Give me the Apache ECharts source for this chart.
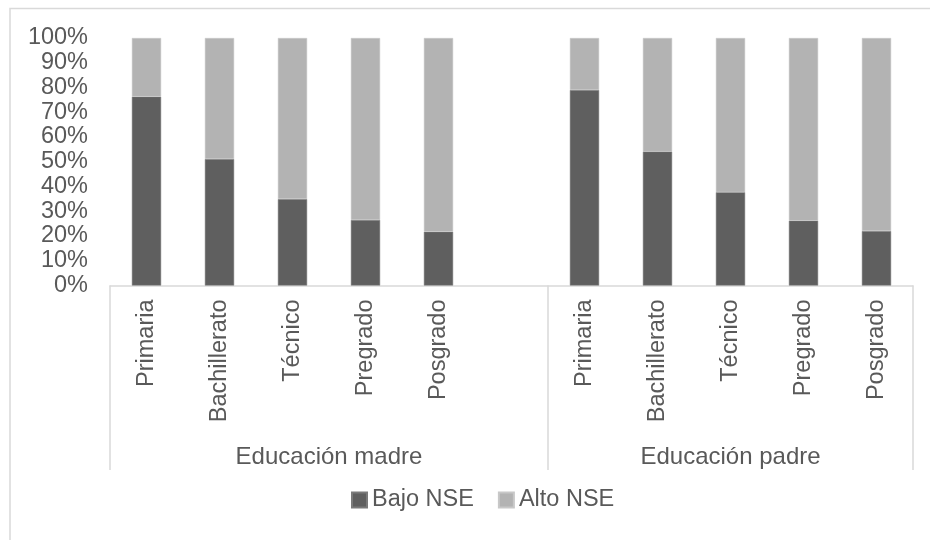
<!DOCTYPE html>
<html>
<head>
<meta charset="utf-8">
<script src="https://cdn.jsdelivr.net/npm/echarts@6/dist/echarts.min.js"></script>
<style>
html,body{margin:0;padding:0;background:#fff;}
#c{width:930px;height:540px;}
</style>
</head>
<body>
<div id="c"></div>
<script>
// ---- data ----
const levels = ['Primaria', 'Bachillerato', 'Técnico', 'Pregrado', 'Posgrado'];
const groups = ['Educación madre', 'Educación padre'];
const bajoMadre = [76.3, 51.1, 34.9, 26.5, 21.7];
const bajoPadre = [79.0, 54.1, 37.7, 26.2, 22.0];
const altoMadre = [23.7, 48.9, 65.1, 73.5, 78.3];
const altoPadre = [21.0, 45.9, 62.3, 73.8, 78.0];
const seriesNames = ['Bajo NSE', 'Alto NSE'];
const yTicks = [0, 10, 20, 30, 40, 50, 60, 70, 80, 90, 100];

// categories: madre group (5 + one empty slot), padre group (5)
const categories = levels.concat(['']).concat(levels);
const bajo = bajoMadre.concat([null]).concat(bajoPadre);
const alto = altoMadre.concat([null]).concat(altoPadre);

const textColor = '#595959';
const lineColor = '#d9d9d9';
const font = 'Liberation Sans, Arial, sans-serif';

const chart = echarts.init(document.getElementById('c'), null, {renderer: 'canvas'});
const option = {
  animation: false,
  textStyle: {fontFamily: font},
  grid: {left: 110, right: 17, top: 38, bottom: 254.5},
  legend: {
    data: seriesNames,
    left: 346, top: 483,
    itemWidth: 15, itemHeight: 15, itemGap: 24,
    icon: 'rect',
    textStyle: {color: textColor, fontSize: 23.5, fontFamily: font}
  },
  xAxis: {
    type: 'category',
    data: categories,
    axisLine: {show: true, lineStyle: {color: lineColor, width: 1.5}},
    axisTick: {show: false},
    axisLabel: {rotate: 90, interval: 0, margin: 14, color: textColor, fontSize: 23.5, fontFamily: font}
  },
  yAxis: {
    type: 'value',
    min: 0, max: 100, interval: 10,
    axisLine: {show: false},
    axisTick: {show: false},
    splitLine: {show: false},
    axisLabel: {
      margin: 22, color: textColor, fontSize: 23.5, fontFamily: font,
      formatter: function (v) { return yTicks.indexOf(v) >= 0 ? v + '%' : ''; }
    }
  },
  series: [
    {name: seriesNames[0], type: 'bar', stack: 'a', data: bajo, barWidth: '40%',
     itemStyle: {color: '#5f5f5f', borderColor: '#7a7a7a', borderWidth: 0.5}},
    {name: seriesNames[1], type: 'bar', stack: 'a', data: alto, barWidth: '40%',
     itemStyle: {color: '#b3b3b3', borderColor: '#c8c8c8', borderWidth: 0.5}}
  ]
};
chart.setOption(option);

// group separators and labels positioned via the axis scale
function boundary(i) {
  const a = chart.convertToPixel({xAxisIndex: 0}, 0);
  const step = chart.convertToPixel({xAxisIndex: 0}, 1) - a;
  return a - step / 2 + i * step;
}
const y0 = chart.convertToPixel({yAxisIndex: 0}, 0);
const bounds = [0, 6, 11].map(boundary);
const g = [];
bounds.forEach(function (x) {
  g.push({type: 'line', shape: {x1: x, y1: y0, x2: x, y2: 470},
          style: {stroke: lineColor, lineWidth: 1.5}, silent: true});
});
groups.forEach(function (name, i) {
  g.push({type: 'text', x: (bounds[i] + bounds[i + 1]) / 2, y: 457,
          style: {text: name, fill: textColor, font: '24px ' + font,
                  textAlign: 'center', textVerticalAlign: 'middle'}, silent: true});
});
g.push({type: 'rect', shape: {x: 10, y: 8.5, width: 960, height: 600},
        style: {fill: 'none', stroke: lineColor, lineWidth: 1.5}, silent: true, z: -1});
chart.setOption({graphic: g});
</script>
</body>
</html>
